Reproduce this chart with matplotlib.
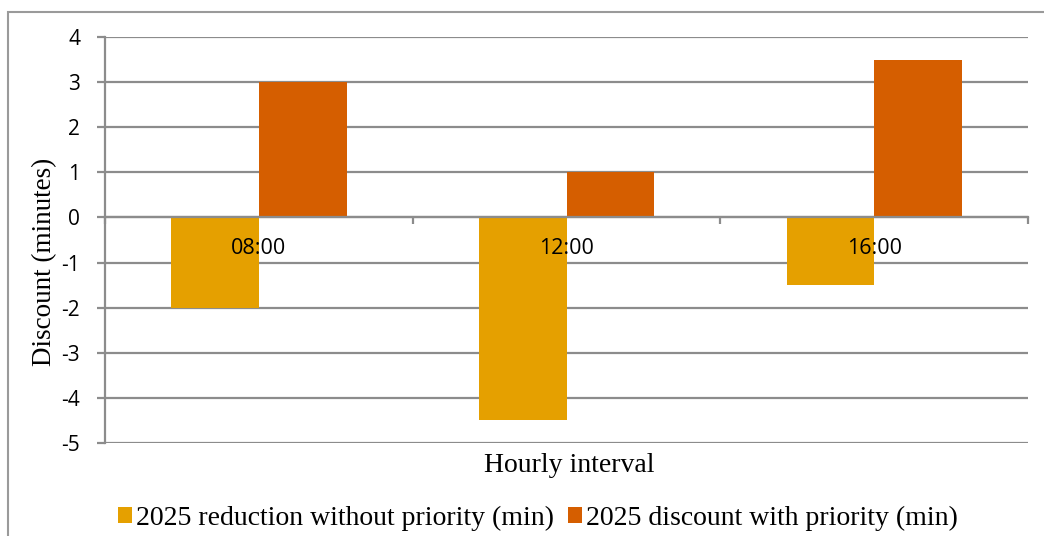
import matplotlib
matplotlib.use('Agg')
import matplotlib.pyplot as plt
from matplotlib.patches import Rectangle
import numpy as np

# Hourly intervals and the two 2025 series (minutes)
hours = ['08:00', '12:00', '16:00']
without_priority = [-2.0, -4.5, -1.5]
with_priority = [3.0, 1.0, 3.5]

label_without = '2025 reduction without priority (min)'
label_with = '2025 discount with priority (min)'

gold = '#E5A000'
orange = '#D55E00'
grid_col = '#8C8C8C'
serif = ['Liberation Serif', 'DejaVu Serif']
sans = ['Open Sans', 'DejaVu Sans']

plt.rcParams['axes.unicode_minus'] = False

fig = plt.figure(figsize=(10.44, 5.36), dpi=100)
ax = fig.add_axes([0.1006, 0.1735, 0.8841, 0.7575])

# outer chart frame
fig.patches.append(Rectangle((8 / 1044, -0.1), 1.2, 1 - 12 / 536 + 0.1,
                             transform=fig.transFigure, fill=False,
                             edgecolor='#9A9A9A', linewidth=1.5))

x = np.arange(len(hours))
w = 0.285
ax.bar(x - w / 2, without_priority, w, color=gold, label=label_without, zorder=3)
ax.bar(x + w / 2, with_priority, w, color=orange, label=label_with, zorder=3)

ax.set_xlim(-0.5, len(hours) - 0.5)
ax.set_ylim(-5, 4)
ax.set_yticks(range(-5, 5))
ax.yaxis.grid(True, color=grid_col, linewidth=1.6, zorder=0)
ax.set_axisbelow(True)

for s in ['top', 'right']:
    ax.spines[s].set_visible(False)
ax.spines['left'].set_color(grid_col)
ax.spines['left'].set_linewidth(1.6)
ax.spines['bottom'].set_position(('data', 0))
ax.spines['bottom'].set_color(grid_col)
ax.spines['bottom'].set_linewidth(1.6)
ax.spines['bottom'].set_zorder(4)

# boundary ticks on the zero line; category names drawn over the bars
ax.set_xticks(np.arange(-0.5, len(hours)))
ax.set_xticklabels([])
ax.tick_params(axis='x', length=5, width=1.6, color=grid_col, direction='out')
for xi, h in zip(x, hours):
    ax.annotate(h, (xi, 0), xytext=(0, -31), textcoords='offset pixels',
                ha='center', va='center', fontsize=15.5, family=sans,
                zorder=6)

ax.tick_params(axis='y', length=6, width=1.6, color=grid_col, pad=12,
               labelsize=15)
for t in ax.get_yticklabels():
    t.set_family(sans)

fig.text(45 / 1044, 1 - 262 / 536, 'Discount (minutes)', fontsize=19.5,
         family=serif, rotation=90, ha='center', va='center')
fig.text(569 / 1044, 1 - 466 / 536, 'Hourly interval', fontsize=20,
         family=serif, ha='center', va='center')

leg = fig.legend(loc='center', bbox_to_anchor=(538 / 1044, 1 - 518 / 536),
                 ncol=2, frameon=False, prop={'family': serif, 'size': 20},
                 handlelength=0.5, handleheight=0.5, handletextpad=0.15,
                 columnspacing=0.5)

fig.savefig('out.png', dpi=100)
